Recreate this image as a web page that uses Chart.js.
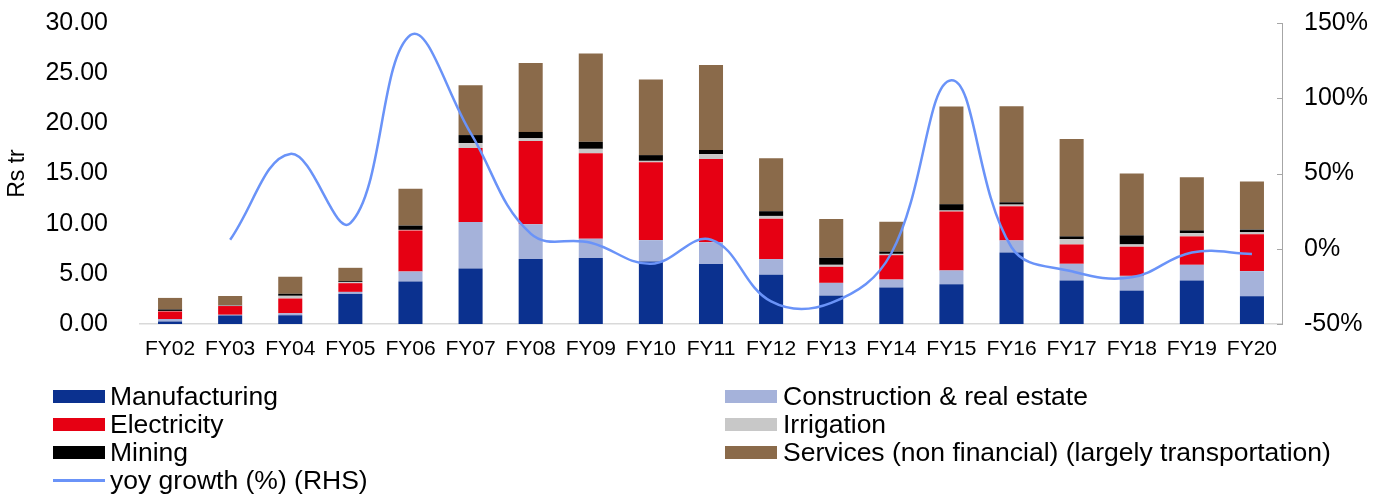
<!DOCTYPE html>
<html>
<head>
<meta charset="utf-8">
<script src="https://cdn.jsdelivr.net/npm/chart.js@4.4.0/dist/chart.umd.min.js"></script>
<style>
  html, body { margin: 0; padding: 0; background: #ffffff; }
  #wrap { position: relative; width: 1389px; height: 499px; overflow: hidden; font-family: "Liberation Sans", Arial, sans-serif; }
  #c { position: absolute; left: 0; top: 0; }
  .lg { position: absolute; height: 28px; line-height: 28px; white-space: nowrap; color: #000; }
  .lg .box { position: absolute; top: 8px; height: 13px; }
  .lg .ln { position: absolute; top: 13px; height: 2.5px; }
  .lg .tx { position: absolute; top: 0; }
</style>
</head>
<body>
<div id="wrap">
  <canvas id="c" width="1389" height="499"></canvas>
  <div id="legend"></div>
</div>
<script>
const categories = ["FY02","FY03","FY04","FY05","FY06","FY07","FY08","FY09","FY10","FY11","FY12","FY13","FY14","FY15","FY16","FY17","FY18","FY19","FY20"];
const manufacturing = [0.25, 0.85, 0.87, 3.00, 4.23, 5.53, 6.47, 6.57, 6.23, 5.97, 4.90, 2.83, 3.63, 3.97, 7.13, 4.33, 3.33, 4.33, 2.77];
const construction  = [0.25, 0.07, 0.20, 0.20, 1.00, 4.63, 3.47, 1.93, 2.13, 2.17, 1.57, 1.27, 0.80, 1.37, 1.20, 1.67, 1.47, 1.57, 2.50];
const electricity   = [0.75, 0.87, 1.47, 0.87, 4.10, 7.37, 8.30, 8.53, 7.77, 8.30, 4.03, 1.60, 2.43, 5.87, 3.40, 1.93, 2.90, 2.83, 3.67];
const irrigation    = [0.05, 0.05, 0.27, 0.10, 0.05, 0.50, 0.27, 0.43, 0.13, 0.50, 0.27, 0.20, 0.13, 0.10, 0.17, 0.53, 0.23, 0.33, 0.20];
const mining        = [0.15, 0.05, 0.20, 0.10, 0.43, 0.80, 0.63, 0.70, 0.57, 0.40, 0.47, 0.70, 0.23, 0.63, 0.23, 0.27, 0.90, 0.27, 0.27];
const services      = [1.15, 0.90, 1.70, 1.33, 3.67, 4.97, 6.87, 8.80, 7.53, 8.47, 5.27, 3.87, 2.97, 9.73, 9.57, 9.70, 6.17, 5.30, 4.80];
const yoyGrowth     = [null, 6, 63, 17, 142, 77, 10, 4, -10, 6, -35, -36, -3, 112, 1, -15, -19, -2.5, -3.5];
const leftTicks  = [0, 5, 10, 15, 20, 25, 30];
const rightTicks = [-50, 0, 50, 100, 150];

const FONT = "'Liberation Sans', Arial, sans-serif";

const barSeries = [
  { label: "Manufacturing", data: manufacturing, color: "#0B318F" },
  { label: "Construction & real estate", data: construction, color: "#A5B2DA" },
  { label: "Electricity", data: electricity, color: "#E60013" },
  { label: "Irrigation", data: irrigation, color: "#C8C8C8" },
  { label: "Mining", data: mining, color: "#000000" },
  { label: "Services (non financial) (largely transportation)", data: services, color: "#8A6A4A" }
];
const lineSeries = { label: "yoy growth (%) (RHS)", data: yoyGrowth, color: "#6A93F8" };

const datasets = barSeries.map(s => ({
  type: "bar",
  label: s.label,
  data: s.data,
  backgroundColor: s.color,
  borderWidth: 0,
  stack: "s",
  yAxisID: "y",
  barPercentage: 0.4,
  categoryPercentage: 1.0,
  order: 1
}));
datasets.push({
  type: "line",
  label: lineSeries.label,
  data: lineSeries.data,
  borderColor: lineSeries.color,
  borderWidth: 2.5,
  pointRadius: 0,
  fill: false,
  tension: 0.4,
  yAxisID: "y1",
  spanGaps: false,
  order: 0
});

const innerTicks = {
  id: "innerTicks",
  afterDraw(chart) {
    const s = chart.scales.y1;
    const ctx = chart.ctx;
    ctx.save();
    ctx.strokeStyle = "#A6A6A6";
    ctx.lineWidth = 1;
    rightTicks.forEach(v => {
      const y = Math.round(s.getPixelForValue(v)) + 0.5;
      ctx.beginPath();
      ctx.moveTo(s.left - 5, y);
      ctx.lineTo(s.left, y);
      ctx.stroke();
    });
    ctx.restore();
  }
};

new Chart(document.getElementById("c"), {
  data: { labels: categories, datasets },
  options: {
    responsive: false,
    animation: false,
    devicePixelRatio: 1,
    layout: { padding: { top: 23, left: 0, right: 0, bottom: 0 } },
    plugins: { legend: { display: false }, tooltip: { enabled: false } },
    scales: {
      x: {
        stacked: true,
        grid: { display: false, drawTicks: false },
        border: { display: true, color: "#D9D9D9", width: 1.5 },
        ticks: { color: "#000", font: { family: FONT, size: 21 }, padding: 13, maxRotation: 0, autoSkip: false },
        afterFit(scale) { scale.height = 175; }
      },
      y: {
        type: "linear",
        position: "left",
        stacked: true,
        min: 0, max: 30,
        afterBuildTicks(scale) { scale.ticks = leftTicks.map(v => ({ value: v })); },
        grid: { display: false, drawTicks: false },
        border: { display: false },
        ticks: { color: "#000", font: { family: FONT, size: 25 }, padding: 32, callback: v => Number(v).toFixed(2) },
        title: { display: true, text: "Rs tr", color: "#000", font: { family: FONT, size: 23 }, padding: { top: 4, bottom: 0 } },
        afterFit(scale) { scale.width = 140; scale.paddingTop = 0; scale.paddingBottom = 0; }
      },
      y1: {
        type: "linear",
        position: "right",
        min: -50, max: 150,
        afterBuildTicks(scale) { scale.ticks = rightTicks.map(v => ({ value: v })); },
        grid: { display: false, drawTicks: false, drawOnChartArea: false },
        border: { display: true, color: "#A6A6A6", width: 1 },
        ticks: { color: "#000", font: { family: FONT, size: 25 }, padding: 22, callback: v => v + "%" },
        afterFit(scale) { scale.width = 107; scale.paddingTop = 0; scale.paddingBottom = 0; }
      }
    }
  },
  plugins: [innerTicks]
});

// HTML legend, two columns
const legend = document.getElementById("legend");
const items = barSeries.map(s => ({ label: s.label, color: s.color, kind: "box" }));
items.push({ label: lineSeries.label, color: lineSeries.color, kind: "line" });
const col1 = { boxX: 53, boxW: 52, textX: 110, size: 26.5 };
const col2 = { boxX: 725, boxW: 52, textX: 783, size: 26.5 };
const rowTop = [382, 410, 438, 466];
items.forEach((it, i) => {
  let col, row;
  if (i < 6) { col = (i % 2 === 0) ? col1 : col2; row = Math.floor(i / 2); }
  else { col = col1; row = 3; }
  const d = document.createElement("div");
  d.className = "lg";
  d.style.left = "0px";
  d.style.top = rowTop[row] + "px";
  d.style.width = "1389px";
  const mk = document.createElement("div");
  mk.className = it.kind === "box" ? "box" : "ln";
  mk.style.left = col.boxX + "px";
  mk.style.width = col.boxW + "px";
  mk.style.background = it.color;
  const tx = document.createElement("span");
  tx.className = "tx";
  tx.style.left = col.textX + "px";
  tx.style.fontSize = col.size + "px";
  tx.textContent = it.label;
  d.appendChild(mk);
  d.appendChild(tx);
  legend.appendChild(d);
});
</script>
</body>
</html>
